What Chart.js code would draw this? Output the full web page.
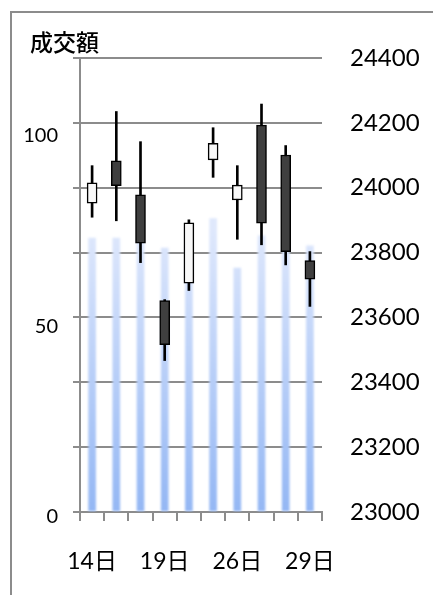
<!DOCTYPE html>
<html>
<head>
<meta charset="utf-8">
<script src="https://cdn.jsdelivr.net/npm/chart.js@4/dist/chart.umd.min.js"></script>
<style>
  html, body { margin: 0; padding: 0; background: #fff; overflow: hidden; }
  #c { display: block; }
</style>
</head>
<body>
<canvas id="c" width="433" height="595"></canvas>
<script>
// ---- data ----
const categories = ['14日','15日','18日','19日','20日','21日','26日','27日','28日','29日'];
const shownTickLabels = ['14日','19日','26日','29日'];
const volume = [70.4, 70.4, 70, 67.8, 68, 75.4, 62.7, 71, 70, 68.4];
const openP  = [23952, 24083, 23978, 23652, 23706, 24086, 23962, 24193, 24101, 23775];
const highP  = [24068, 24235, 24142, 23655, 23901, 24185, 24068, 24258, 24130, 23803];
const lowP   = [23909, 23898, 23769, 23467, 23683, 24032, 23841, 23824, 23762, 23634];
const closeP = [24015, 24006, 23829, 23516, 23892, 24137, 24008, 23891, 23803, 23718];
const volumeTickLabels = [0, 50, 100];
const priceMin = 23000, priceMax = 24400, priceStep = 200;
const chartTitle = '成交額';

const GRID = '#8c8c8c';
const wickData = lowP.map((l, i) => [l, highP[i]]);
const bodyData = openP.map((o, i) => [o, closeP[i]]);
const bodyColors = openP.map((o, i) => closeP[i] >= o ? '#f8f8f8' : '#3f3f3f');

const decor = {
  id: 'decor',
  beforeDatasetDraw(chart, args) {
    if (args.index === 0) { chart.ctx.save(); chart.ctx.filter = 'blur(1px)'; }
  },
  afterDatasetDraw(chart, args) {
    if (args.index === 0) { chart.ctx.restore(); }
  },
  afterDraw(chart) {
    const ctx = chart.ctx;
    ctx.save();
    ctx.strokeStyle = GRID;
    ctx.lineWidth = 2;
    ctx.beginPath();
    ctx.moveTo(11, 595); ctx.lineTo(11, 12); ctx.lineTo(433, 12);
    ctx.stroke();
    ctx.fillStyle = '#000';
    ctx.font = '500 23px "Noto Sans CJK JP", sans-serif';
    ctx.textBaseline = 'middle';
    ctx.textAlign = 'left';
    ctx.fillText(chartTitle, 30, 42);
    ctx.restore();
  }
};

function volGradient(context) {
  const chart = context.chart;
  const area = chart.chartArea;
  if (!area) return '#b5cdf7';
  const g = chart.ctx.createLinearGradient(0, area.bottom, 0, area.top + 170);
  g.addColorStop(0, '#94b7f4');
  g.addColorStop(1, '#dfe8fc');
  return g;
}

const chart = new Chart(document.getElementById('c'), {
  type: 'bar',
  data: {
    labels: categories,
    datasets: [
      { label: 'vol', data: volume, yAxisID: 'yVol', backgroundColor: volGradient,
        barThickness: 7, grouped: false, order: 3, borderWidth: 0 },
      { label: 'wick', data: wickData, yAxisID: 'yP', backgroundColor: '#000',
        barThickness: 2, grouped: false, order: 2, borderWidth: 0 },
      { label: 'body', data: bodyData, yAxisID: 'yP', backgroundColor: bodyColors,
        borderColor: '#000', borderWidth: 1.5, borderSkipped: false,
        barThickness: 10, grouped: false, order: 1 }
    ]
  },
  options: {
    responsive: false,
    animation: false,
    events: [],
    layout: { padding: { top: 58, left: 0, right: 0, bottom: 0 } },
    plugins: { legend: { display: false }, tooltip: { enabled: false }, title: { display: false } },
    scales: {
      x: {
        type: 'category',
        offset: true,
        grid: { offset: true, drawOnChartArea: false, drawTicks: true, tickLength: 9, color: GRID, lineWidth: 2 },
        border: { display: true, color: GRID, width: 2 },
        ticks: {
          autoSkip: false, maxRotation: 0, minRotation: 0, padding: 27,
          color: '#000', font: { family: 'Lato, "Noto Sans CJK JP", sans-serif', size: 23 },
          callback(value) { const l = this.getLabelForValue(value); return shownTickLabels.includes(l) ? l : ''; }
        },
        afterFit(s) { s.height = 83; }
      },
      yVol: {
        position: 'left', weight: 0,
        min: 0, max: 350 / 3,
        afterBuildTicks(s) { s.ticks = [0,1,2,3,4,5,6,7].map(i => ({ value: i * 50 / 3 })); },
        grid: { color: GRID, lineWidth: 2, tickLength: 7, drawTicks: true },
        border: { display: true, color: GRID, width: 2 },
        ticks: { display: false },
        afterFit(s) { s.width = 7; }
      },
      yLbl: {
        position: 'left', weight: 1,
        min: 1.31, max: 120.25,
        afterBuildTicks(s) { s.ticks = volumeTickLabels.map(v => ({ value: v })); },
        grid: { display: false, drawTicks: false },
        border: { display: false },
        ticks: { padding: 15, color: '#000', font: { family: 'Lato, sans-serif', size: 20 }, autoSkip: false,
                 callback: v => String(v) },
        afterFit(s) { s.width = 73; }
      },
      yP: {
        position: 'right',
        min: priceMin, max: priceMax,
        ticks: { stepSize: priceStep, padding: 28, color: '#000', font: { family: 'Lato, sans-serif', size: 24 },
                 callback: v => String(v) },
        grid: { display: false, drawTicks: false },
        border: { display: false },
        afterFit(s) { s.width = 111; }
      }
    }
  },
  plugins: [decor]
});

if (document.fonts && document.fonts.load) {
  Promise.all([
    document.fonts.load('24px Lato'),
    document.fonts.load('500 23px "Noto Sans CJK JP"')
  ]).then(() => chart.update()).catch(() => {});
}
</script>
</body>
</html>
